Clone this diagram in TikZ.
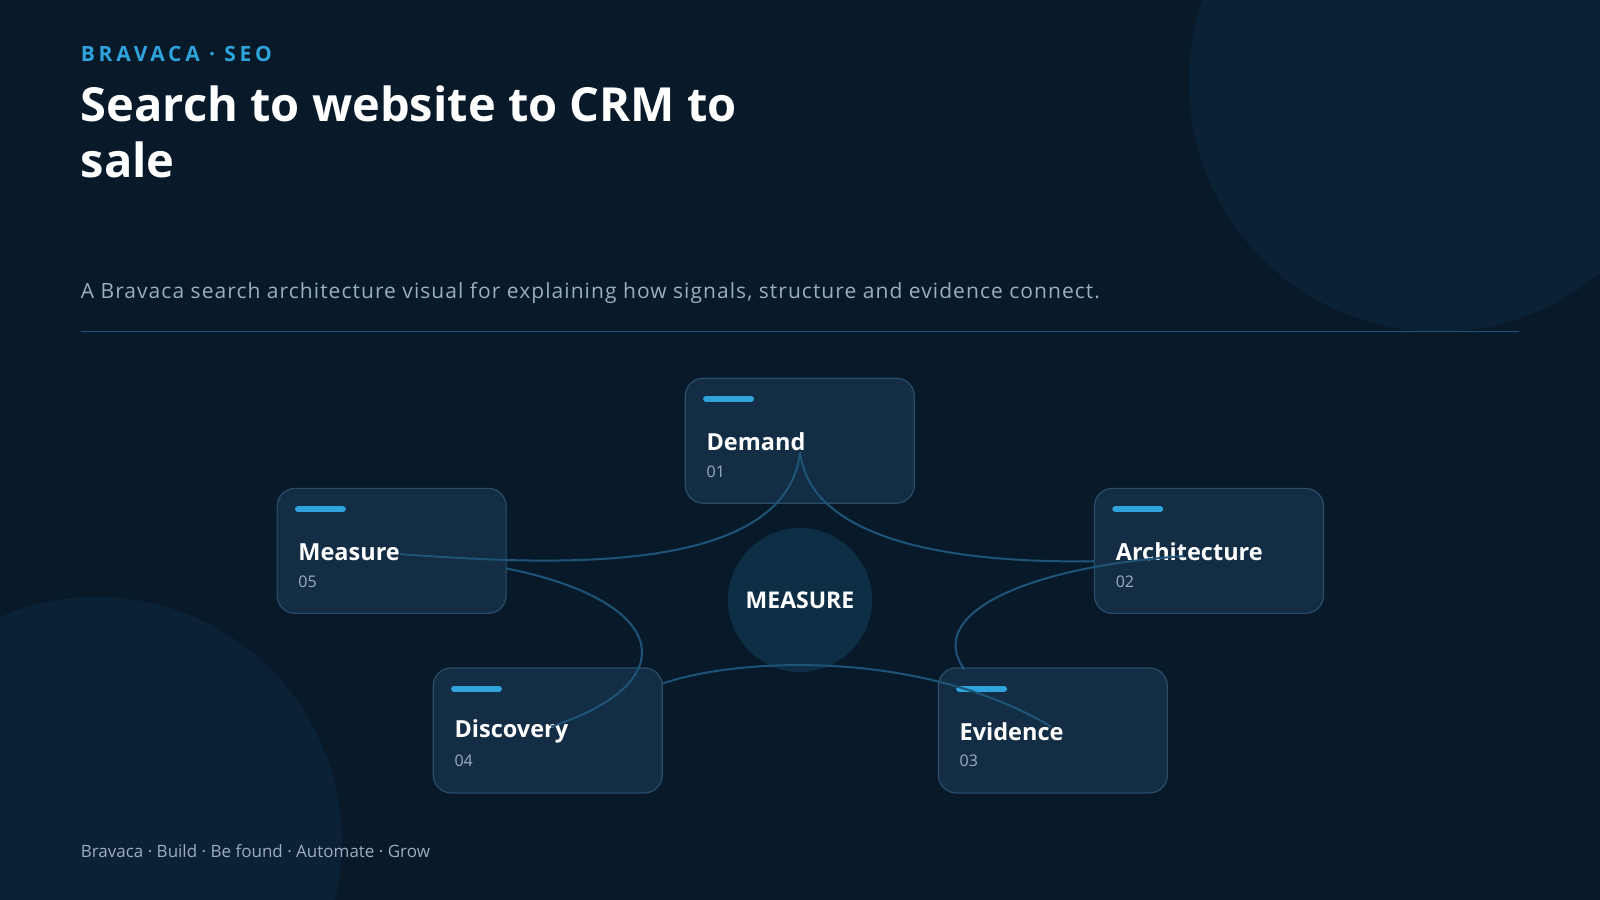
\documentclass[tikz,border=0pt]{standalone}
\usepackage{fontspec}
\setmainfont{Open Sans}
\definecolor{bg}{HTML}{081A2A}
\definecolor{deco}{HTML}{0B2135}
\definecolor{accent}{HTML}{2EA3DC}
\definecolor{cardf}{HTML}{142F48}
\definecolor{cardb}{HTML}{2A4D6A}
\definecolor{wire}{HTML}{1D5478}
\definecolor{muted}{HTML}{9AAEBE}
\definecolor{hub}{HTML}{0F3048}
\begin{document}
\begin{tikzpicture}[x=1.0204pt,y=-1.0204pt,
  card/.style={draw=cardb,line width=1.2pt,fill=cardf,fill opacity=0.92,rounded corners=18pt,minimum width=229pt,minimum height=125pt,anchor=north west,inner sep=0pt},
  bar/.style={accent,line width=6pt,line cap=round},
  ctitle/.style={anchor=west,text=white,font=\fontsize{23.5}{26}\selectfont\bfseries},
  cnum/.style={anchor=west,text=muted,font=\fontsize{16}{18}\selectfont},
  wirestyle/.style={wire,line width=2pt}]
\useasboundingbox[fill=bg] (0,0) rectangle (1568,882);
\fill[deco] (1410,80) circle (245);
\fill[deco] (95,825) circle (240);
\node[anchor=west,inner sep=0pt,text=accent,font=\fontsize{21}{24}\selectfont\bfseries\addfontfeature{LetterSpace=18}] (kick) at (79,53) {BRAVACA · SEO};
\node[anchor=north west,text=white,align=left,inner sep=0pt,font=\fontsize{47}{56}\selectfont\bfseries] (title) at (79,84) {Search to website to CRM to\\sale};
\node[anchor=west,text=muted,inner sep=0pt,font=\fontsize{21}{24}\selectfont\addfontfeature{LetterSpace=5}] (sub) at (79,287) {A Bravaca search architecture visual for explaining how signals, structure and evidence connect.};
\coordinate (l1) at (79,325); \coordinate (l2) at (1489,325);
\draw[wire,line width=1.5pt] (l1) -- (l2);
\node[anchor=west,text=muted,inner sep=0pt,font=\fontsize{17}{20}\selectfont] (foot) at (79,834) {Bravaca · Build · Be found · Automate · Grow};
% cards
\node[card] (dem) at (671,370) {};
\node[card] (mea) at (271,478) {};
\node[card] (arc) at (1072,478) {};
\node[card] (dis) at (424,654) {};
\node[card] (evi) at (919,654) {};
\foreach \n/\t/\k in {dem/Demand/01,mea/Measure/05,arc/Architecture/02,dis/Discovery/04,evi/Evidence/03}{
  \draw[bar] ([shift={(21,21)}]\n.north west) -- ([shift={(65,21)}]\n.north west);
  \node[ctitle] (\n t) at ([shift={(18,63)}]\n.north west) {\t};
  \node[cnum] (\n n) at ([shift={(18,92)}]\n.north west) {\k};
}
% hub
\node[circle,fill=hub,fill opacity=0.95,minimum size=144pt,inner sep=0pt,text=white,text opacity=1,font=\fontsize{23}{26}\selectfont\bfseries] (hub) at (784,588) {MEASURE};
% wires
\coordinate (dA) at (784,443);
\coordinate (mA) at (392,543);
\coordinate (aA) at (1072,550);
\coordinate (aB) at (1160,545);
\coordinate (eA) at (945,656);
\coordinate (mB) at (496,557);
\coordinate (diA) at (540,712);
\coordinate (diB) at (649,670);
\coordinate (eB) at (1030,712);
\draw[wirestyle] (mA) .. controls (520,552) and (770,570) .. (dA);
\draw[wirestyle] (dA) .. controls (795,535) and (950,552) .. (aA);
\draw[wirestyle] (aB) .. controls (1010,555) and (905,600) .. (eA);
\draw[wirestyle] (mB) .. controls (660,590) and (670,670) .. (diA);
\draw[wirestyle] (diB) .. controls (720,645) and (900,635) .. (eB);
\end{tikzpicture}
\end{document}
